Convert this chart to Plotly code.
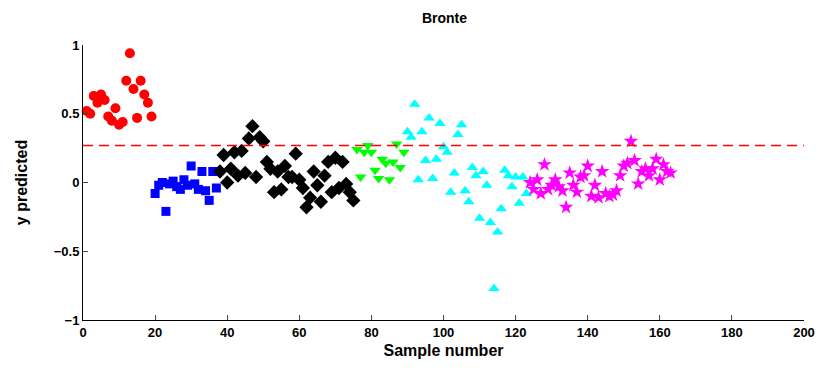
import plotly.graph_objects as go

# Sample groups (start sample index, predicted y values)
red_start = 1
red_y = [0.52, 0.50, 0.63, 0.58, 0.64, 0.60, 0.48, 0.45, 0.54, 0.42, 0.44, 0.74, 0.94,
         0.68, 0.47, 0.74, 0.64, 0.58, 0.48]
blue_start = 20
blue_y = [-0.08, -0.02, 0.00, -0.21, -0.01, 0.01, -0.03, -0.05, 0.02, -0.02, 0.12, -0.01,
          -0.05, 0.08, -0.06, -0.13, 0.08, -0.04]
black_start = 38
black_y = [0.08, 0.20, 0.00, 0.10, 0.22, 0.05, 0.23, 0.07, 0.32, 0.41, 0.04, 0.33, 0.30,
           0.15, 0.10, -0.07, 0.08, -0.05, 0.12, 0.04, 0.04, 0.21, 0.02, -0.04, -0.18,
           -0.11, 0.08, -0.02, -0.14, 0.05, 0.15, -0.07, 0.18, -0.04, 0.15, -0.01, -0.07, -0.13]
green_start = 76
green_y = [0.24, 0.04, 0.22, 0.27, 0.22, 0.09, 0.03, 0.17, 0.14, 0.02, 0.15, 0.28, 0.11, 0.22]
cyan_start = 90
cyan_y = [0.37, 0.33, 0.57, 0.02, 0.37, 0.16, 0.47, 0.03, 0.17, 0.43, 0.26, 0.22, -0.07,
          0.07, 0.35, 0.42, -0.06, -0.14, 0.11, 0.05, -0.26, 0.08, -0.02, -0.29, -0.77,
          -0.36, -0.19, 0.09, 0.05, -0.03, 0.04, -0.15, 0.04, -0.08]
magenta_start = 124
magenta_y = [0.00, -0.05, 0.02, -0.08, 0.13, -0.05, -0.02, 0.02, -0.03, -0.06, -0.18, 0.07,
             -0.02, -0.07, 0.04, 0.05, 0.12, -0.10, -0.02, -0.11, 0.08, -0.08, -0.10, -0.09,
             -0.06, 0.05, 0.12, 0.14, 0.30, 0.16, -0.01, 0.08, 0.10, 0.05, 0.10, 0.17, 0.02,
             0.13, 0.08, 0.07]

threshold = 0.27
x_ticks = [0, 20, 40, 60, 80, 100, 120, 140, 160, 180, 200]
y_ticks = [-1, -0.5, 0, 0.5, 1]

groups = [
    (red_start, red_y, "#FF0000", "circle", 10),
    (blue_start, blue_y, "#0000FF", "square", 9),
    (black_start, black_y, "#000000", "diamond", 11),
    (green_start, green_y, "#00FF00", "triangle-down", 10),
    (cyan_start, cyan_y, "#00FFFF", "triangle-up", 10),
    (magenta_start, magenta_y, "#FF00FF", "star", 11),
]

fig = go.Figure()
for start, ys, col, sym, sz in groups:
    fig.add_trace(go.Scatter(
        x=list(range(start, start + len(ys))), y=ys, mode="markers",
        marker=dict(color=col, symbol=sym, size=sz, line=dict(width=0)),
        showlegend=False, cliponaxis=False))

fig.add_trace(go.Scatter(
    x=[x_ticks[0], x_ticks[-1]], y=[threshold, threshold], mode="lines",
    line=dict(color="#FF0000", width=1.5, dash="10px,6px"), showlegend=False))

font = dict(family="Liberation Sans, Arial, sans-serif", size=13, color="black", weight="bold")

fig.update_layout(
    width=827, height=370,
    margin=dict(l=83, r=19, t=45, b=50),
    paper_bgcolor="white", plot_bgcolor="white",
    font=font,
    title=dict(text="Bronte", x=0.5375, xanchor="center", y=0.95, yanchor="middle",
               font=dict(family="Liberation Sans, Arial, sans-serif", size=14, weight="bold")),
    xaxis=dict(range=[0, 200], tickvals=x_ticks, ticks="inside", ticklen=5,
               showline=True, linecolor="black", linewidth=1, showgrid=False, zeroline=False,
               title=dict(text="Sample number", standoff=6), tickfont=font),
    yaxis=dict(range=[-1, 1], tickvals=y_ticks, ticktext=["−1", "−0.5", "0", "0.5", "1"],
               ticks="inside", ticklen=5,
               showline=True, linecolor="black", linewidth=1, showgrid=False, zeroline=False,
               title=dict(text="y predicted", standoff=22), tickfont=font),
)

fig.write_html("out.html")
